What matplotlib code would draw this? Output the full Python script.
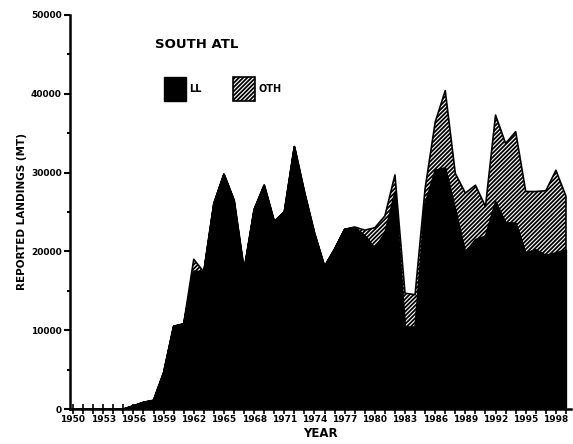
import numpy as np
import matplotlib
matplotlib.use('Agg')
import matplotlib.pyplot as plt
from matplotlib.ticker import MultipleLocator, FixedLocator

plt.rcParams['hatch.linewidth'] = 1.3
plt.rcParams['font.family'] = 'DejaVu Sans'

years = list(range(1950, 2000))

# longline landings (MT)
ll = [0, 0, 0, 0, 0, 0, 400, 850, 1100, 4600,
      10500, 10800, 17500, 17400, 26100, 29800, 26500, 17600, 25300, 28400,
      23800, 25000, 33300, 27500, 22300, 18100, 20300, 22800, 23000, 22000,
      20400, 22300, 27500, 10400, 10400, 26000, 30300, 30600, 25300, 19800,
      21500, 21900, 26300, 23600, 23600, 19800, 20200, 19500, 19800, 20200]

# other gears (MT)
oth = [0, 0, 0, 0, 0, 0, 0, 0, 0, 0,
       0, 0, 1500, 0, 0, 0, 0, 0, 0, 0,
       0, 0, 0, 0, 0, 0, 0, 0, 100, 700,
       2600, 2200, 2200, 4300, 4100, 2000, 6100, 9800, 4600, 7600,
       6900, 3800, 11000, 10100, 11600, 7800, 7400, 8200, 10500, 6800]

year_labels = list(range(1950, 2000, 3))

yrs = np.array(years)
ll = np.array(ll)
total = ll + np.array(oth)

fig = plt.figure(figsize=(5.73, 4.44), dpi=100)
ax = fig.add_axes([70 / 573, 35 / 444, 501 / 573, 394 / 444])

ax.fill_between(yrs, ll, total, facecolor='white', edgecolor='black',
                hatch='////////', linewidth=1.2, label='OTH')
ax.fill_between(yrs, 0, ll, facecolor='black', edgecolor='black',
                linewidth=1, label='LL')

ax.set_xlim(1949.7, 1999.5)
ax.set_ylim(0, 50000)

for s in ['top', 'right']:
    ax.spines[s].set_visible(False)
ax.spines['left'].set_linewidth(1.8)
ax.spines['bottom'].set_linewidth(1.8)

ax.xaxis.set_major_locator(FixedLocator(year_labels))
ax.xaxis.set_minor_locator(MultipleLocator(1))
ax.yaxis.set_major_locator(MultipleLocator(10000))
ax.yaxis.set_minor_locator(MultipleLocator(5000))
ax.tick_params(axis='x', which='both', direction='inout', length=7, width=1.2, labelsize=6.5, pad=1)
ax.tick_params(axis='y', which='major', direction='out', length=4, width=1.5, labelsize=6.5, pad=2)
ax.tick_params(axis='y', which='minor', direction='out', length=2, width=1.5)
for t in ax.get_xticklabels() + ax.get_yticklabels():
    t.set_fontweight('bold')

ax.set_xlabel('YEAR', fontsize=8.5, fontweight='bold', labelpad=2)
ax.set_ylabel('REPORTED LANDINGS (MT)', fontsize=7.5, fontweight='bold', labelpad=3)

ax.text(0.17, 0.925, 'SOUTH ATL', transform=ax.transAxes, fontsize=9.5,
        fontweight='bold', va='center', ha='left')

h, l = ax.get_legend_handles_labels()
ax.legend(h[::-1], l[::-1], loc='upper left', bbox_to_anchor=(0.17, 0.865),
          ncol=2, frameon=False, handlelength=2.3, handleheight=3.4,
          handletextpad=0.3, columnspacing=3.2, prop={'size': 7, 'weight': 'bold'})

fig.savefig('out.png', dpi=100)
